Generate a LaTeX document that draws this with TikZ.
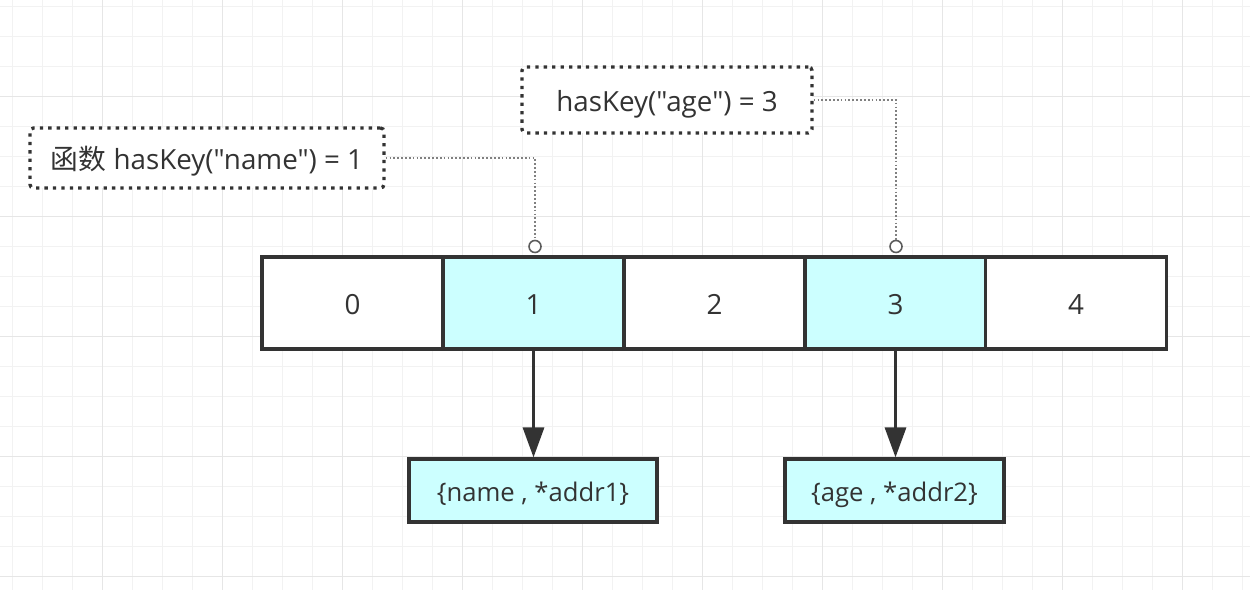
\documentclass[tikz,border=0pt]{standalone}
\usepackage{fontspec}
\setmainfont{Open Sans}[Ligatures=TeXOff]
\newfontfamily\cjk{Noto Sans CJK SC}[Ligatures=TeXOff]
\usetikzlibrary{arrows.meta}
\definecolor{gridminor}{HTML}{F2F2F2}
\definecolor{gridmajor}{HTML}{E6E6E6}
\definecolor{ink}{HTML}{333333}
\definecolor{cyanfill}{HTML}{CCFFFF}
\definecolor{linkgray}{HTML}{808080}
\tikzset{
  labelfont/.style={font=\fontsize{15.8}{18}\selectfont, text height=14.2pt, text depth=1.3pt},
  entryfont/.style={font=\fontsize{14.6}{17}\selectfont, text height=13.2pt, text depth=1.2pt},
  cellbox/.style={draw=ink, line width=1.8pt, minimum width=181*0.02cm, minimum height=92*0.02cm, inner sep=0pt, labelfont, text=ink},
  filledcell/.style={cellbox, fill=cyanfill},
  plaincell/.style={cellbox, fill=white},
  entrybox/.style={draw=ink, line width=1.8pt, fill=cyanfill, minimum height=63*0.02cm, inner sep=0pt, entryfont, text=ink},
  callout/.style={draw=ink, line width=1.9pt, dash pattern=on 1.9pt off 2.9pt, rounded corners=2pt, fill=white, inner sep=0pt, labelfont, text=ink},
  link/.style={draw=linkgray, line width=0.7pt, dash pattern=on 1pt off 1.2pt},
  anchorring/.style={circle, draw=ink!80, line width=0.9pt, fill=white, minimum size=12*0.02cm, inner sep=0pt},
  pointer/.style={draw=ink, line width=1.8pt, -{Triangle[length=30*0.02cm, width=21*0.02cm]}},
}
\begin{document}
\begin{tikzpicture}[x=0.02cm, y=-0.02cm]
\useasboundingbox (0,0) rectangle (1250,590);
\fill[white] (0,0) rectangle (1250,590);
% grid
\foreach \gx in {12.7,42.7,...,1250} {\draw[gridminor, line width=0.6pt] (\gx,0) -- (\gx,590);}
\foreach \gy in {6.7,36.7,...,590} {\draw[gridminor, line width=0.6pt] (0,\gy) -- (1250,\gy);}
\foreach \gx in {102.7,222.7,...,1250} {\draw[gridmajor, line width=0.6pt] (\gx,0) -- (\gx,590);}
\foreach \gy in {96.7,216.7,...,590} {\draw[gridmajor, line width=0.6pt] (0,\gy) -- (1250,\gy);}

% array cells
\node[plaincell]  (c0) at (352.5,303) {0};
\node[filledcell] (c1) at (533.5,303) {1};
\node[plaincell]  (c2) at (714.5,303) {2};
\node[filledcell] (c3) at (895.5,303) {3};
\node[plaincell]  (c4) at (1076,303) {4};

% entries
\node[entrybox, minimum width=248*0.02cm] (e1) at (533,490.5) {\{name , *addr1\}};
\node[entrybox, minimum width=219*0.02cm] (e2) at (894.5,490.5) {\{age , *addr2\}};

\draw[pointer] (c1.south) -- (e1.north -| c1.south);
\draw[pointer] (c3.south) -- (e2.north -| c3.south);

% callouts
\node[callout, minimum width=354*0.02cm, minimum height=60*0.02cm] (k1) at (207,158) {{\cjk 函数} hasKey("name") = 1};
\node[callout, minimum width=290*0.02cm, minimum height=66*0.02cm] (k2) at (667,100) {hasKey("age") = 3};

\node[anchorring] (r1) at (535,246.5) {};
\node[anchorring] (r2) at (896,246.5) {};

\draw[link] (k1.east) -| (r1.north);
\draw[link] (k2.east) -| (r2.north);
\end{tikzpicture}
\end{document}
